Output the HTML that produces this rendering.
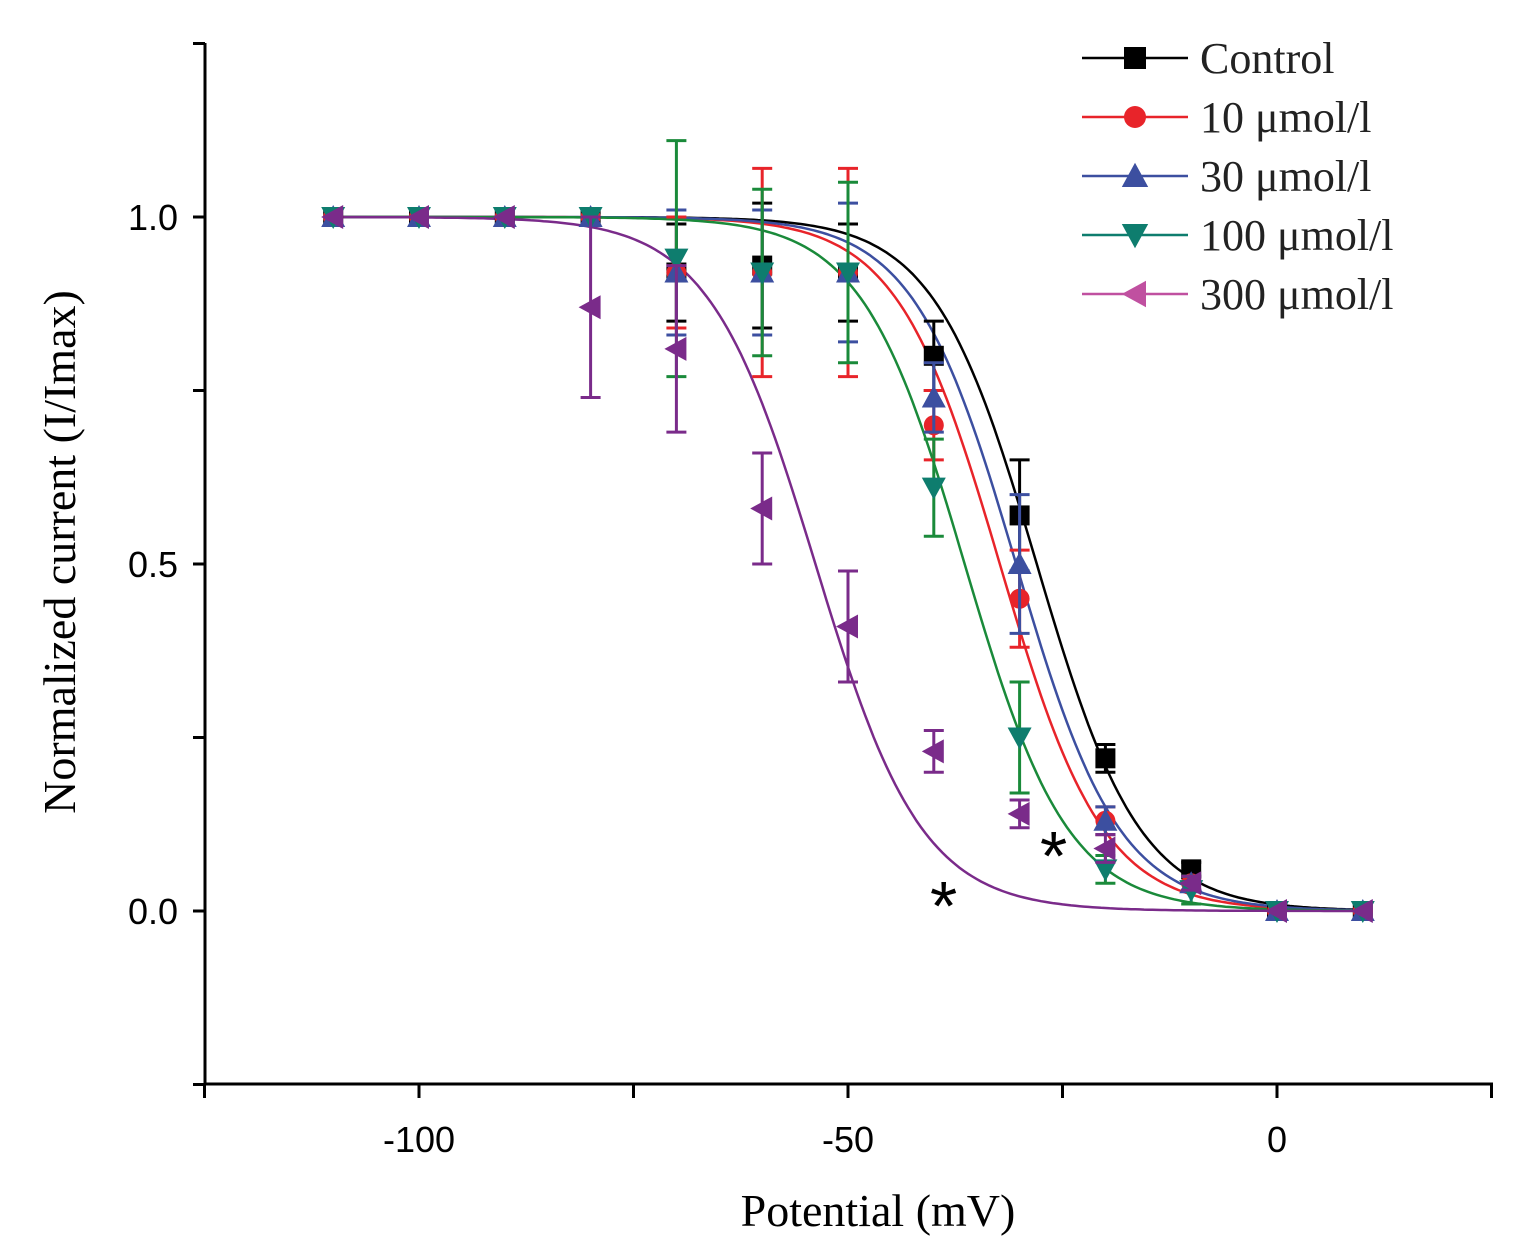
<!DOCTYPE html>
<html><head><meta charset="utf-8"><style>
body{margin:0;background:#fff}
svg text{font-family:"Liberation Sans",sans-serif}
</style></head><body>
<svg id="chart" width="1520" height="1246" viewBox="0 0 1520 1246" xmlns="http://www.w3.org/2000/svg">
<g id="axes"></g><g id="curves"></g><g id="points"></g><g id="legend"></g>
<text x="1040" y="880" font-size="70" font-family="Liberation Serif">*</text>
<text x="930" y="930" font-size="70" font-family="Liberation Serif">*</text>
<text x="878" y="1226" text-anchor="middle" font-size="46" style="font-family:'Liberation Serif',serif">Potential (mV)</text>
<text transform="translate(75,552) rotate(-90)" text-anchor="middle" font-size="46" style="font-family:'Liberation Serif',serif">Normalized current  (I/Imax)</text>
</svg>
<script>
const voltages=[-110,-100,-90,-80,-70,-60,-50,-40,-30,-20,-10,0,10];
const seriesNames=["Control","10 μmol/l","30 μmol/l","100 μmol/l","300 μmol/l"];
const controlVals=[1,1,1,1,0.92,0.93,0.92,0.80,0.57,0.22,0.06,0,0];
const controlErr=[0,0,0,0,0.07,0.09,0.07,0.05,0.08,0.02,0.01,0,0];
const c10Vals=[1,1,1,1,0.92,0.92,0.92,0.70,0.45,0.13,0.04,0,0];
const c10Err=[0,0,0,0,0.08,0.15,0.15,0.05,0.07,0.02,0.01,0,0];
const c30Vals=[1,1,1,1,0.92,0.92,0.92,0.74,0.50,0.13,0.04,0,0];
const c30Err=[0,0,0,0,0.09,0.09,0.10,0.05,0.10,0.02,0.01,0,0];
const c100Vals=[1,1,1,1,0.94,0.92,0.92,0.61,0.25,0.06,0.03,0,0];
const c100Err=[0,0,0,0,0.17,0.12,0.13,0.07,0.08,0.02,0.02,0,0];
const c300Vals=[1,1,1,0.87,0.81,0.58,0.41,0.23,0.14,0.09,0.04,0,0];
const c300Err=[0,0,0,0.13,0.12,0.08,0.08,0.03,0.02,0.02,0.01,0,0];
const fitHalf=[-28,-32.3,-30.4,-36.4,-53.8];
const fitSlope=[6,6,6,6,6.2];
const xTicks=[-100,-50,0];
const xMinor=[-125,-75,-25,25];
const yTicks=[0,0.5,1.0];
const yMinor=[-0.25,0.25,0.75,1.25];

const colors=["#000","#e8242a","#3c4fa0","#0e7d6e","#c050a0"];
const curveColors=["#000","#e8242a","#3c4fa0","#1a8a3a","#7a2b8a"];
const markerColors=["#000","#e8242a","#3c4fa0","#0e7d6e","#7a2b8a"];
const markers=["square","circle","tri","tridown","trileft"];
const vals=[controlVals,c10Vals,c30Vals,c100Vals,c300Vals];
const errs=[controlErr,c10Err,c30Err,c100Err,c300Err];
const NS="http://www.w3.org/2000/svg";
const X=v=>1277+v*8.58;
const Y=v=>911-v*694;
function mk(tag,attrs,parent){const e=document.createElementNS(NS,tag);for(const k in attrs)e.setAttribute(k,attrs[k]);parent.appendChild(e);return e;}
const axes=document.getElementById('axes');
let e=mk('line',{x1:205,y1:1084,x2:1493,y2:1084,stroke:'#000','stroke-width':3},axes);


e=mk('line',{x1:205,y1:43,x2:205,y2:1085,stroke:'#000','stroke-width':3},axes);


xTicks.concat(xMinor).forEach(v=>{e=mk('line',{x1:X(v),y1:1084,x2:X(v),y2:1098,stroke:'#000','stroke-width':3},axes);

});
xTicks.forEach(v=>{e=mk('text',{x:X(v),y:1152,'text-anchor':'middle','font-size':36},axes);e.textContent=v;

});
yTicks.concat(yMinor).forEach(v=>{e=mk('line',{x1:193,y1:Y(v),x2:205,y2:Y(v),stroke:'#000','stroke-width':3},axes);

});
yTicks.forEach(v=>{e=mk('text',{x:178,y:Y(v)+13,'text-anchor':'end','font-size':36},axes);e.textContent=v.toFixed(1);

});
const curves=document.getElementById('curves');
for(let s=0;s<5;s++){let d='';for(let v=-110;v<=10;v+=0.5){const y=1/(1+Math.exp((v-fitHalf[s])/fitSlope[s]));d+=(d?'L':'M')+X(v).toFixed(1)+','+Y(y).toFixed(1);}
e=mk('path',{d:d,fill:'none',stroke:curveColors[s],'stroke-width':2.5},curves);

}
function marker(type,cx,cy,r,col,parent){
 if(type==='square')return mk('rect',{x:cx-r,y:cy-r,width:2*r,height:2*r,fill:col},parent);
 if(type==='circle')return mk('circle',{cx:cx,cy:cy,r:r,fill:col},parent);
 let p;
 if(type==='tri')p=[[cx,cy-r*1.2],[cx-r*1.2,cy+r],[cx+r*1.2,cy+r]];
 if(type==='tridown')p=[[cx,cy+r*1.2],[cx-r*1.2,cy-r],[cx+r*1.2,cy-r]];
 if(type==='trileft')p=[[cx-r*1.2,cy],[cx+r,cy-r*1.2],[cx+r,cy+r*1.2]];
 return mk('polygon',{points:p.map(q=>q.join(',')).join(' '),fill:col},parent);
}
const pts=document.getElementById('points');
for(let s=0;s<5;s++){const g=mk('g',{},pts);


voltages.forEach((v,i)=>{const x=X(v),y=Y(vals[s][i]),er=errs[s][i]*694;
 if(er>0){mk('line',{x1:x,y1:y-er,x2:x,y2:y+er,stroke:curveColors[s],'stroke-width':3},g);
 mk('line',{x1:x-10,y1:y-er,x2:x+10,y2:y-er,stroke:curveColors[s],'stroke-width':3},g);
 mk('line',{x1:x-10,y1:y+er,x2:x+10,y2:y+er,stroke:curveColors[s],'stroke-width':3},g);}
 const m=marker(markers[s],x,y,10,markerColors[s],g);
 
 
});}
const lg=document.getElementById('legend');
for(let s=0;s<5;s++){const y=58+s*59;const g=mk('g',{},lg);


mk('line',{x1:1082,y1:y,x2:1188,y2:y,stroke:colors[s],'stroke-width':2.5},g);
marker(markers[s],1135,y,11,colors[s],g);
const t=mk('text',{x:1200,y:y+15,'font-size':44,style:"font-family:'Liberation Serif',serif",fill:'#222'},g);t.textContent=seriesNames[s];}
</script>
</body></html>
